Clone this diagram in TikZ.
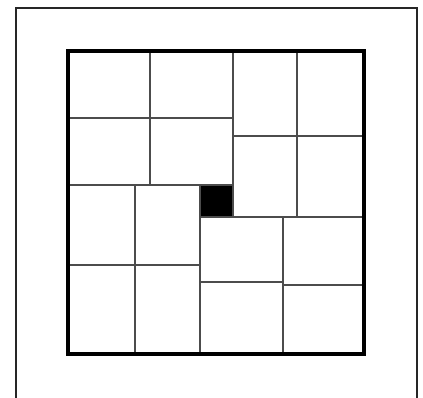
\documentclass[tikz,border=0pt]{standalone}
\usepackage{tikz}

\tikzset{
  frameline/.style={line width=2.4pt, black!85},
  edgeline/.style={line width=3.4pt, black},
  cutline/.style={line width=2.3pt, black!70},
}

\begin{document}
\begin{tikzpicture}[x=1pt, y=-1pt]

  \useasboundingbox (0,0) rectangle (423,398);

  % -- Outer frame (open at the bottom) --
  \draw[frameline] (16,398) -- (16,8) -- (417,8) -- (417,398);

  % -- Hole --
  \fill[black] (200,185) rectangle (233,217);

  % -- Cuts, top rows --
  \draw[cutline] (150,51) -- (150,184);
  \draw[cutline] (233,51) -- (233,217);
  \draw[cutline] (297,51) -- (297,217);
  \draw[cutline] (68,118) -- (233,118);
  \draw[cutline] (233,136) -- (364,136);
  \draw[cutline] (68,185) -- (233,185);

  % -- Cuts, bottom rows --
  \draw[cutline] (135,185) -- (135,354);
  \draw[cutline] (200,185) -- (200,354);
  \draw[cutline] (68,265) -- (200,265);
  \draw[cutline] (200,217) -- (364,217);
  \draw[cutline] (283,217) -- (283,354);
  \draw[cutline] (200,282) -- (283,282);
  \draw[cutline] (283,285) -- (364,285);

  % -- Board edge --
  \draw[edgeline] (68,51) rectangle (364,354);

\end{tikzpicture}
\end{document}
